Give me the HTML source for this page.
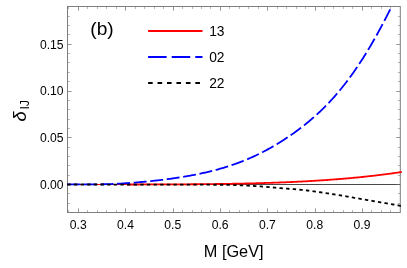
<!DOCTYPE html>
<html><head><meta charset="utf-8"><style>
html,body{margin:0;padding:0;background:#fff;}
svg{display:block;will-change:transform;font-family:"Liberation Sans",sans-serif;}
</style></head><body>
<svg width="407" height="268" viewBox="0 0 407 268">
<rect width="407" height="268" fill="#fff"/>
<line x1="67.5" y1="184.5" x2="400.3" y2="184.5" stroke="#484848" stroke-width="1"/>
<g stroke="#666" stroke-opacity="0.68" stroke-width="1" fill="none">
<line x1="68.50" y1="212.5" x2="68.50" y2="210.05" stroke-opacity="0.48"/><line x1="68.50" y1="6.5" x2="68.50" y2="8.95" stroke-opacity="0.48"/><line x1="78.50" y1="212.5" x2="78.50" y2="208.4"/><line x1="78.50" y1="6.5" x2="78.50" y2="10.6"/><line x1="87.50" y1="212.5" x2="87.50" y2="210.05" stroke-opacity="0.48"/><line x1="87.50" y1="6.5" x2="87.50" y2="8.95" stroke-opacity="0.48"/><line x1="97.50" y1="212.5" x2="97.50" y2="210.05" stroke-opacity="0.48"/><line x1="97.50" y1="6.5" x2="97.50" y2="8.95" stroke-opacity="0.48"/><line x1="106.50" y1="212.5" x2="106.50" y2="210.05" stroke-opacity="0.48"/><line x1="106.50" y1="6.5" x2="106.50" y2="8.95" stroke-opacity="0.48"/><line x1="116.50" y1="212.5" x2="116.50" y2="210.05" stroke-opacity="0.48"/><line x1="116.50" y1="6.5" x2="116.50" y2="8.95" stroke-opacity="0.48"/><line x1="125.50" y1="212.5" x2="125.50" y2="208.4"/><line x1="125.50" y1="6.5" x2="125.50" y2="10.6"/><line x1="135.50" y1="212.5" x2="135.50" y2="210.05" stroke-opacity="0.48"/><line x1="135.50" y1="6.5" x2="135.50" y2="8.95" stroke-opacity="0.48"/><line x1="144.50" y1="212.5" x2="144.50" y2="210.05" stroke-opacity="0.48"/><line x1="144.50" y1="6.5" x2="144.50" y2="8.95" stroke-opacity="0.48"/><line x1="154.50" y1="212.5" x2="154.50" y2="210.05" stroke-opacity="0.48"/><line x1="154.50" y1="6.5" x2="154.50" y2="8.95" stroke-opacity="0.48"/><line x1="163.50" y1="212.5" x2="163.50" y2="210.05" stroke-opacity="0.48"/><line x1="163.50" y1="6.5" x2="163.50" y2="8.95" stroke-opacity="0.48"/><line x1="173.50" y1="212.5" x2="173.50" y2="208.4"/><line x1="173.50" y1="6.5" x2="173.50" y2="10.6"/><line x1="182.50" y1="212.5" x2="182.50" y2="210.05" stroke-opacity="0.48"/><line x1="182.50" y1="6.5" x2="182.50" y2="8.95" stroke-opacity="0.48"/><line x1="192.50" y1="212.5" x2="192.50" y2="210.05" stroke-opacity="0.48"/><line x1="192.50" y1="6.5" x2="192.50" y2="8.95" stroke-opacity="0.48"/><line x1="201.50" y1="212.5" x2="201.50" y2="210.05" stroke-opacity="0.48"/><line x1="201.50" y1="6.5" x2="201.50" y2="8.95" stroke-opacity="0.48"/><line x1="210.50" y1="212.5" x2="210.50" y2="210.05" stroke-opacity="0.48"/><line x1="210.50" y1="6.5" x2="210.50" y2="8.95" stroke-opacity="0.48"/><line x1="220.50" y1="212.5" x2="220.50" y2="208.4"/><line x1="220.50" y1="6.5" x2="220.50" y2="10.6"/><line x1="229.50" y1="212.5" x2="229.50" y2="210.05" stroke-opacity="0.48"/><line x1="229.50" y1="6.5" x2="229.50" y2="8.95" stroke-opacity="0.48"/><line x1="239.50" y1="212.5" x2="239.50" y2="210.05" stroke-opacity="0.48"/><line x1="239.50" y1="6.5" x2="239.50" y2="8.95" stroke-opacity="0.48"/><line x1="248.50" y1="212.5" x2="248.50" y2="210.05" stroke-opacity="0.48"/><line x1="248.50" y1="6.5" x2="248.50" y2="8.95" stroke-opacity="0.48"/><line x1="258.50" y1="212.5" x2="258.50" y2="210.05" stroke-opacity="0.48"/><line x1="258.50" y1="6.5" x2="258.50" y2="8.95" stroke-opacity="0.48"/><line x1="267.50" y1="212.5" x2="267.50" y2="208.4"/><line x1="267.50" y1="6.5" x2="267.50" y2="10.6"/><line x1="277.50" y1="212.5" x2="277.50" y2="210.05" stroke-opacity="0.48"/><line x1="277.50" y1="6.5" x2="277.50" y2="8.95" stroke-opacity="0.48"/><line x1="286.50" y1="212.5" x2="286.50" y2="210.05" stroke-opacity="0.48"/><line x1="286.50" y1="6.5" x2="286.50" y2="8.95" stroke-opacity="0.48"/><line x1="296.50" y1="212.5" x2="296.50" y2="210.05" stroke-opacity="0.48"/><line x1="296.50" y1="6.5" x2="296.50" y2="8.95" stroke-opacity="0.48"/><line x1="305.50" y1="212.5" x2="305.50" y2="210.05" stroke-opacity="0.48"/><line x1="305.50" y1="6.5" x2="305.50" y2="8.95" stroke-opacity="0.48"/><line x1="315.50" y1="212.5" x2="315.50" y2="208.4"/><line x1="315.50" y1="6.5" x2="315.50" y2="10.6"/><line x1="324.50" y1="212.5" x2="324.50" y2="210.05" stroke-opacity="0.48"/><line x1="324.50" y1="6.5" x2="324.50" y2="8.95" stroke-opacity="0.48"/><line x1="333.50" y1="212.5" x2="333.50" y2="210.05" stroke-opacity="0.48"/><line x1="333.50" y1="6.5" x2="333.50" y2="8.95" stroke-opacity="0.48"/><line x1="343.50" y1="212.5" x2="343.50" y2="210.05" stroke-opacity="0.48"/><line x1="343.50" y1="6.5" x2="343.50" y2="8.95" stroke-opacity="0.48"/><line x1="352.50" y1="212.5" x2="352.50" y2="210.05" stroke-opacity="0.48"/><line x1="352.50" y1="6.5" x2="352.50" y2="8.95" stroke-opacity="0.48"/><line x1="362.50" y1="212.5" x2="362.50" y2="208.4"/><line x1="362.50" y1="6.5" x2="362.50" y2="10.6"/><line x1="371.50" y1="212.5" x2="371.50" y2="210.05" stroke-opacity="0.48"/><line x1="371.50" y1="6.5" x2="371.50" y2="8.95" stroke-opacity="0.48"/><line x1="381.50" y1="212.5" x2="381.50" y2="210.05" stroke-opacity="0.48"/><line x1="381.50" y1="6.5" x2="381.50" y2="8.95" stroke-opacity="0.48"/><line x1="390.50" y1="212.5" x2="390.50" y2="210.05" stroke-opacity="0.48"/><line x1="390.50" y1="6.5" x2="390.50" y2="8.95" stroke-opacity="0.48"/><line x1="67.5" y1="203.50" x2="69.95" y2="203.50" stroke-opacity="0.48"/><line x1="400.3" y1="203.50" x2="397.85" y2="203.50" stroke-opacity="0.48"/><line x1="67.5" y1="193.50" x2="69.95" y2="193.50" stroke-opacity="0.48"/><line x1="400.3" y1="193.50" x2="397.85" y2="193.50" stroke-opacity="0.48"/><line x1="67.5" y1="184.50" x2="71.6" y2="184.50"/><line x1="400.3" y1="184.50" x2="396.2" y2="184.50"/><line x1="67.5" y1="175.50" x2="69.95" y2="175.50" stroke-opacity="0.48"/><line x1="400.3" y1="175.50" x2="397.85" y2="175.50" stroke-opacity="0.48"/><line x1="67.5" y1="165.50" x2="69.95" y2="165.50" stroke-opacity="0.48"/><line x1="400.3" y1="165.50" x2="397.85" y2="165.50" stroke-opacity="0.48"/><line x1="67.5" y1="156.50" x2="69.95" y2="156.50" stroke-opacity="0.48"/><line x1="400.3" y1="156.50" x2="397.85" y2="156.50" stroke-opacity="0.48"/><line x1="67.5" y1="147.50" x2="69.95" y2="147.50" stroke-opacity="0.48"/><line x1="400.3" y1="147.50" x2="397.85" y2="147.50" stroke-opacity="0.48"/><line x1="67.5" y1="137.50" x2="71.6" y2="137.50"/><line x1="400.3" y1="137.50" x2="396.2" y2="137.50"/><line x1="67.5" y1="128.50" x2="69.95" y2="128.50" stroke-opacity="0.48"/><line x1="400.3" y1="128.50" x2="397.85" y2="128.50" stroke-opacity="0.48"/><line x1="67.5" y1="119.50" x2="69.95" y2="119.50" stroke-opacity="0.48"/><line x1="400.3" y1="119.50" x2="397.85" y2="119.50" stroke-opacity="0.48"/><line x1="67.5" y1="109.50" x2="69.95" y2="109.50" stroke-opacity="0.48"/><line x1="400.3" y1="109.50" x2="397.85" y2="109.50" stroke-opacity="0.48"/><line x1="67.5" y1="100.50" x2="69.95" y2="100.50" stroke-opacity="0.48"/><line x1="400.3" y1="100.50" x2="397.85" y2="100.50" stroke-opacity="0.48"/><line x1="67.5" y1="91.50" x2="71.6" y2="91.50"/><line x1="400.3" y1="91.50" x2="396.2" y2="91.50"/><line x1="67.5" y1="81.50" x2="69.95" y2="81.50" stroke-opacity="0.48"/><line x1="400.3" y1="81.50" x2="397.85" y2="81.50" stroke-opacity="0.48"/><line x1="67.5" y1="72.50" x2="69.95" y2="72.50" stroke-opacity="0.48"/><line x1="400.3" y1="72.50" x2="397.85" y2="72.50" stroke-opacity="0.48"/><line x1="67.5" y1="62.50" x2="69.95" y2="62.50" stroke-opacity="0.48"/><line x1="400.3" y1="62.50" x2="397.85" y2="62.50" stroke-opacity="0.48"/><line x1="67.5" y1="53.50" x2="69.95" y2="53.50" stroke-opacity="0.48"/><line x1="400.3" y1="53.50" x2="397.85" y2="53.50" stroke-opacity="0.48"/><line x1="67.5" y1="44.50" x2="71.6" y2="44.50"/><line x1="400.3" y1="44.50" x2="396.2" y2="44.50"/><line x1="67.5" y1="34.50" x2="69.95" y2="34.50" stroke-opacity="0.48"/><line x1="400.3" y1="34.50" x2="397.85" y2="34.50" stroke-opacity="0.48"/><line x1="67.5" y1="25.50" x2="69.95" y2="25.50" stroke-opacity="0.48"/><line x1="400.3" y1="25.50" x2="397.85" y2="25.50" stroke-opacity="0.48"/><line x1="67.5" y1="16.50" x2="69.95" y2="16.50" stroke-opacity="0.48"/><line x1="400.3" y1="16.50" x2="397.85" y2="16.50" stroke-opacity="0.48"/>
<rect x="67.5" y="6.5" width="332.8" height="206.0" stroke="#7e7e7e" stroke-opacity="1" stroke-width="1"/>
</g>
<g fill="none" stroke-width="1.8">
<path d="M67.30,184.50 L68.30,184.50 L69.30,184.50 L70.30,184.50 L71.30,184.50 L72.30,184.50 L73.30,184.50 L74.30,184.50 L75.30,184.50 L76.30,184.50 L77.30,184.50 L78.30,184.50 L79.30,184.50 L80.30,184.50 L81.30,184.50 L82.30,184.50 L83.30,184.50 L84.30,184.50 L85.30,184.50 L86.30,184.50 L87.30,184.50 L88.30,184.50 L89.30,184.50 L90.30,184.50 L91.30,184.50 L92.30,184.50 L93.30,184.50 L94.30,184.50 L95.30,184.50 L96.30,184.50 L97.30,184.50 L98.30,184.50 L99.30,184.50 L100.30,184.50 L101.30,184.50 L102.30,184.50 L103.30,184.50 L104.30,184.50 L105.30,184.50 L106.30,184.50 L107.30,184.50 L108.30,184.50 L109.30,184.50 L110.30,184.50 L111.30,184.50 L112.30,184.50 L113.30,184.50 L114.30,184.50 L115.30,184.50 L116.30,184.49 L117.30,184.49 L118.30,184.49 L119.30,184.49 L120.30,184.49 L121.30,184.49 L122.30,184.49 L123.30,184.49 L124.30,184.49 L125.30,184.49 L126.30,184.49 L127.30,184.49 L128.00,184.49" stroke="#f00" stroke-width="1.1"/>
<path d="M127.00,184.49 L128.00,184.49 L129.00,184.49 L130.00,184.49 L131.00,184.48 L132.00,184.48 L133.00,184.48 L134.00,184.48 L135.00,184.48 L136.00,184.48 L137.00,184.48 L138.00,184.48 L139.00,184.48 L140.00,184.47 L141.00,184.47 L142.00,184.47 L143.00,184.47 L144.00,184.47 L145.00,184.47 L146.00,184.46 L147.00,184.46 L148.00,184.46 L149.00,184.46 L150.00,184.46 L151.00,184.45 L152.00,184.45 L153.00,184.45 L154.00,184.45 L155.00,184.44 L156.00,184.44 L157.00,184.44 L158.00,184.44 L159.00,184.43 L160.00,184.43 L161.00,184.43 L162.00,184.42 L163.00,184.42 L164.00,184.42 L165.00,184.41 L166.00,184.41 L167.00,184.41 L168.00,184.40 L169.00,184.40 L170.00,184.39 L171.00,184.39 L172.00,184.39 L173.00,184.38 L174.00,184.38 L175.00,184.37 L176.00,184.37 L177.00,184.36 L178.00,184.36 L179.00,184.35 L180.00,184.35 L181.00,184.34 L182.00,184.33 L183.00,184.33 L184.00,184.32 L185.00,184.32 L186.00,184.31 L187.00,184.30 L188.00,184.30 L189.00,184.29 L190.00,184.28 L191.00,184.27 L192.00,184.27 L193.00,184.26 L194.00,184.25 L195.00,184.24 L196.00,184.23 L197.00,184.23 L198.00,184.22 L199.00,184.21 L200.00,184.20 L201.00,184.19 L202.00,184.18 L203.00,184.17 L204.00,184.16 L205.00,184.15 L206.00,184.14 L207.00,184.13 L208.00,184.12 L209.00,184.11 L210.00,184.10 L211.00,184.09 L212.00,184.07 L213.00,184.06 L214.00,184.05 L215.00,184.04 L216.00,184.02 L217.00,184.01 L218.00,184.00 L219.00,183.98 L220.00,183.97 L221.00,183.96 L222.00,183.94 L223.00,183.93 L224.00,183.91 L225.00,183.90 L226.00,183.88 L227.00,183.86 L228.00,183.85 L229.00,183.83 L230.00,183.81 L231.00,183.80 L232.00,183.78 L233.00,183.76 L234.00,183.74 L235.00,183.73 L236.00,183.71 L237.00,183.69 L238.00,183.67 L239.00,183.65 L240.00,183.63 L241.00,183.61 L242.00,183.59 L243.00,183.56 L244.00,183.54 L245.00,183.52 L246.00,183.50 L247.00,183.48 L248.00,183.45 L249.00,183.43 L250.00,183.40 L251.00,183.38 L252.00,183.36 L253.00,183.33 L254.00,183.30 L255.00,183.28 L256.00,183.25 L257.00,183.23 L258.00,183.20 L259.00,183.17 L260.00,183.14 L261.00,183.11 L262.00,183.08 L263.00,183.05 L264.00,183.02 L265.00,182.99 L266.00,182.96 L267.00,182.93 L268.00,182.90 L269.00,182.87 L270.00,182.83 L271.00,182.80 L272.00,182.77 L273.00,182.73 L274.00,182.70 L275.00,182.66 L276.00,182.63 L277.00,182.59 L278.00,182.55 L279.00,182.52 L280.00,182.48 L281.00,182.44 L282.00,182.40 L283.00,182.36 L284.00,182.32 L285.00,182.28 L286.00,182.24 L287.00,182.20 L288.00,182.15 L289.00,182.11 L290.00,182.07 L291.00,182.02 L292.00,181.98 L293.00,181.93 L294.00,181.88 L295.00,181.84 L296.00,181.79 L297.00,181.74 L298.00,181.69 L299.00,181.64 L300.00,181.59 L301.00,181.54 L302.00,181.49 L303.00,181.44 L304.00,181.39 L305.00,181.33 L306.00,181.28 L307.00,181.23 L308.00,181.17 L309.00,181.11 L310.00,181.06 L311.00,181.00 L312.00,180.94 L313.00,180.88 L314.00,180.82 L315.00,180.76 L316.00,180.70 L317.00,180.64 L318.00,180.58 L319.00,180.51 L320.00,180.45 L321.00,180.38 L322.00,180.32 L323.00,180.25 L324.00,180.18 L325.00,180.12 L326.00,180.05 L327.00,179.98 L328.00,179.91 L329.00,179.84 L330.00,179.76 L331.00,179.69 L332.00,179.62 L333.00,179.54 L334.00,179.47 L335.00,179.39 L336.00,179.31 L337.00,179.24 L338.00,179.16 L339.00,179.08 L340.00,179.00 L341.00,178.91 L342.00,178.83 L343.00,178.75 L344.00,178.66 L345.00,178.58 L346.00,178.49 L347.00,178.40 L348.00,178.32 L349.00,178.23 L350.00,178.14 L351.00,178.05 L352.00,177.95 L353.00,177.86 L354.00,177.77 L355.00,177.67 L356.00,177.58 L357.00,177.48 L358.00,177.38 L359.00,177.28 L360.00,177.18 L361.00,177.08 L362.00,176.98 L363.00,176.87 L364.00,176.77 L365.00,176.66 L366.00,176.56 L367.00,176.45 L368.00,176.34 L369.00,176.23 L370.00,176.12 L371.00,176.01 L372.00,175.90 L373.00,175.78 L374.00,175.67 L375.00,175.55 L376.00,175.43 L377.00,175.31 L378.00,175.19 L379.00,175.07 L380.00,174.95 L381.00,174.83 L382.00,174.70 L383.00,174.58 L384.00,174.45 L385.00,174.32 L386.00,174.19 L387.00,174.06 L388.00,173.93 L389.00,173.80 L390.00,173.66 L391.00,173.53 L392.00,173.39 L393.00,173.25 L394.00,173.11 L395.00,172.97 L396.00,172.83 L397.00,172.69 L398.00,172.54 L399.00,172.40 L400.00,172.25 L401.00,172.10 L401.80,171.98" stroke="#f00"/>
<path d="M67.30,184.31 L68.30,184.36 L69.30,184.40 L70.30,184.44 L71.30,184.45 L72.30,184.45 L73.30,184.45 L74.30,184.45 L75.30,184.45 L76.30,184.45 L77.30,184.45 L78.30,184.45 L79.30,184.45 L80.30,184.45 L81.30,184.45 L82.30,184.45 L83.30,184.45 L84.30,184.45 L85.30,184.45 L86.30,184.45 L87.30,184.45 L88.30,184.44 L89.30,184.44 L90.30,184.43 L91.30,184.43 L92.30,184.42 L93.30,184.41 L94.30,184.40 L95.30,184.39 L96.30,184.37 L97.30,184.36 L98.30,184.34 L99.30,184.33 L100.30,184.31 L101.30,184.29 L102.30,184.27 L103.30,184.25 L104.30,184.23 L105.30,184.20 L106.30,184.18 L107.30,184.15 L108.30,184.12 L109.30,184.10 L110.30,184.07 L111.30,184.03 L112.30,184.00 L113.30,183.97 L114.30,183.92 L115.30,183.87 L116.30,183.81 L117.30,183.76 L118.30,183.70 L119.30,183.65 L120.30,183.59 L121.30,183.53 L122.30,183.46 L123.30,183.40 L124.30,183.34 L125.30,183.27 L126.30,183.20 L127.30,183.13 L128.30,183.06 L129.30,182.99 L130.30,182.92 L131.30,182.84 L132.30,182.77 L133.30,182.69 L134.30,182.61 L135.30,182.53 L136.30,182.45 L137.30,182.37 L138.30,182.28 L139.30,182.20 L140.30,182.11 L141.30,182.02 L142.30,181.93 L143.30,181.84 L144.30,181.74 L145.30,181.65 L146.30,181.55 L147.30,181.46 L148.30,181.36 L149.30,181.26 L150.30,181.16 L151.30,181.05 L152.30,180.95 L153.30,180.84 L154.30,180.73 L155.30,180.62 L156.30,180.51 L157.30,180.40 L158.30,180.28 L159.30,180.17 L160.30,180.05 L161.30,179.93 L162.30,179.81 L163.30,179.68 L164.30,179.56 L165.30,179.43 L166.30,179.30 L167.30,179.17 L168.30,179.04 L169.30,178.91 L170.30,178.77 L171.30,178.63 L172.30,178.49 L173.30,178.35 L174.30,178.21 L175.30,178.06 L176.30,177.91 L177.30,177.76 L178.30,177.61 L179.30,177.45 L180.30,177.30 L181.30,177.14 L182.30,176.98 L183.30,176.81 L184.30,176.65 L185.30,176.48 L186.30,176.31 L187.30,176.13 L188.30,175.96 L189.30,175.78 L190.30,175.60 L191.30,175.41 L192.30,175.22 L193.30,175.03 L194.30,174.84 L195.30,174.65 L196.30,174.45 L197.30,174.25 L198.30,174.04 L199.30,173.84 L200.30,173.63 L201.30,173.41 L202.30,173.20 L203.30,172.98 L204.30,172.75 L205.30,172.53 L206.30,172.30 L207.30,172.06 L208.30,171.83 L209.30,171.59 L210.30,171.34 L211.30,171.10 L212.30,170.85 L213.30,170.59 L214.30,170.33 L215.30,170.07 L216.30,169.80 L217.30,169.53 L218.30,169.26 L219.30,168.98 L220.30,168.70 L221.30,168.41 L222.30,168.12 L223.30,167.82 L224.30,167.52 L225.30,167.22 L226.30,166.91 L227.30,166.60 L228.30,166.28 L229.30,165.96 L230.30,165.63 L231.30,165.29 L232.30,164.96 L233.30,164.61 L234.30,164.27 L235.30,163.91 L236.30,163.56 L237.30,163.19 L238.30,162.83 L239.30,162.45 L240.30,162.07 L241.30,161.69 L242.30,161.30 L243.30,160.90 L244.30,160.50 L245.30,160.09 L246.30,159.68 L247.30,159.26 L248.30,158.84 L249.30,158.41 L250.30,157.97 L251.30,157.53 L252.30,157.08 L253.30,156.63 L254.30,156.17 L255.30,155.71 L256.30,155.23 L257.30,154.76 L258.30,154.27 L259.30,153.78 L260.30,153.29 L261.30,152.78 L262.30,152.28 L263.30,151.76 L264.30,151.24 L265.30,150.71 L266.30,150.18 L267.30,149.64 L268.30,149.10 L269.30,148.54 L270.30,147.99 L271.30,147.42 L272.30,146.85 L273.30,146.27 L274.30,145.69 L275.30,145.10 L276.30,144.51 L277.30,143.91 L278.30,143.30 L279.30,142.68 L280.30,142.06 L281.30,141.44 L282.30,140.81 L283.30,140.17 L284.30,139.52 L285.30,138.87 L286.30,138.21 L287.30,137.55 L288.30,136.87 L289.30,136.20 L290.30,135.51 L291.30,134.82 L292.30,134.12 L293.30,133.42 L294.30,132.70 L295.30,131.99 L296.30,131.26 L297.30,130.52 L298.30,129.78 L299.30,129.03 L300.30,128.28 L301.30,127.51 L302.30,126.74 L303.30,125.96 L304.30,125.17 L305.30,124.37 L306.30,123.57 L307.30,122.75 L308.30,121.93 L309.30,121.10 L310.30,120.26 L311.30,119.41 L312.30,118.54 L313.30,117.67 L314.30,116.79 L315.30,115.90 L316.30,115.00 L317.30,114.09 L318.30,113.17 L319.30,112.24 L320.30,111.29 L321.30,110.34 L322.30,109.37 L323.30,108.39 L324.30,107.40 L325.30,106.40 L326.30,105.38 L327.30,104.35 L328.30,103.31 L329.30,102.26 L330.30,101.19 L331.30,100.11 L332.30,99.01 L333.30,97.91 L334.30,96.78 L335.30,95.65 L336.30,94.50 L337.30,93.33 L338.30,92.16 L339.30,90.96 L340.30,89.76 L341.30,88.53 L342.30,87.30 L343.30,86.04 L344.30,84.77 L345.30,83.49 L346.30,82.19 L347.30,80.88 L348.30,79.55 L349.30,78.20 L350.30,76.84 L351.30,75.46 L352.30,74.07 L353.30,72.66 L354.30,71.24 L355.30,69.79 L356.30,68.34 L357.30,66.86 L358.30,65.37 L359.30,63.86 L360.30,62.34 L361.30,60.80 L362.30,59.24 L363.30,57.67 L364.30,56.08 L365.30,54.47 L366.30,52.85 L367.30,51.21 L368.30,49.56 L369.30,47.88 L370.30,46.20 L371.30,44.49 L372.30,42.77 L373.30,41.04 L374.30,39.29 L375.30,37.52 L376.30,35.74 L377.30,33.94 L378.30,32.13 L379.30,30.30 L380.30,28.46 L381.30,26.60 L382.30,24.72 L383.30,22.84 L384.30,20.93 L385.30,19.02 L386.30,17.09 L387.30,15.15 L388.30,13.19 L389.30,11.22 L390.30,9.24 L390.40,9.04" stroke="#00f" stroke-dasharray="12.94 3.67" stroke-dashoffset="0"/>
<path d="M67.30,184.50 L68.30,184.50 L69.30,184.50 L70.30,184.50 L71.30,184.50 L72.30,184.50 L73.30,184.50 L74.30,184.50 L75.30,184.50 L76.30,184.50 L77.30,184.50 L78.30,184.50 L79.30,184.50 L80.30,184.50 L81.30,184.50 L82.30,184.50 L83.30,184.51 L84.30,184.51 L85.30,184.51 L86.30,184.51 L87.30,184.51 L88.30,184.51 L89.30,184.51 L90.30,184.51 L91.30,184.51 L92.30,184.51 L93.30,184.51 L94.30,184.51 L95.30,184.51 L96.30,184.51 L97.30,184.52 L98.30,184.52 L99.30,184.52 L100.30,184.52 L101.30,184.52 L102.30,184.52 L103.30,184.52 L104.30,184.52 L105.30,184.52 L106.30,184.52 L107.30,184.53 L108.30,184.53 L109.30,184.53 L110.30,184.53 L111.30,184.53 L112.30,184.53 L113.30,184.53 L114.30,184.53 L115.30,184.53 L116.30,184.54 L117.30,184.54 L118.30,184.54 L119.30,184.54 L120.30,184.54 L121.30,184.54 L122.30,184.54 L123.30,184.54 L124.30,184.55 L125.30,184.55 L126.30,184.55 L127.30,184.55 L128.30,184.55 L129.30,184.55 L130.30,184.55 L131.30,184.56 L132.30,184.56 L133.30,184.56 L134.30,184.56 L135.30,184.56 L136.30,184.56 L137.30,184.56 L138.30,184.57 L139.30,184.57 L140.30,184.57 L141.30,184.57 L142.30,184.57 L143.30,184.57 L144.30,184.58 L145.30,184.58 L146.30,184.58 L147.30,184.58 L148.30,184.58 L149.30,184.58 L150.30,184.58 L151.30,184.59 L152.30,184.59 L153.30,184.59 L154.30,184.59 L155.30,184.59 L156.30,184.59 L157.30,184.60 L158.30,184.60 L159.30,184.60 L160.30,184.60 L161.30,184.60 L162.30,184.60 L163.30,184.61 L164.30,184.61 L165.30,184.61 L166.30,184.61 L167.30,184.61 L168.30,184.62 L169.30,184.62 L170.30,184.62 L171.30,184.62 L172.30,184.63 L173.30,184.63 L174.30,184.63 L175.30,184.63 L176.30,184.64 L177.30,184.64 L178.30,184.64 L179.30,184.64 L180.30,184.65 L181.30,184.65 L182.30,184.65 L183.30,184.65 L184.30,184.66 L185.30,184.66 L186.30,184.66 L187.30,184.67 L188.30,184.67 L189.30,184.67 L190.30,184.67 L191.30,184.68 L192.30,184.68 L193.30,184.68 L194.30,184.69 L195.30,184.69 L196.30,184.69 L197.30,184.69 L198.30,184.70 L199.30,184.70 L200.30,184.70 L201.30,184.70 L202.30,184.71 L203.30,184.71 L204.30,184.71 L205.30,184.71 L206.30,184.71 L207.30,184.71 L208.30,184.72 L209.30,184.72 L210.30,184.72 L211.30,184.72 L212.30,184.73 L213.30,184.73 L214.30,184.73 L215.30,184.73 L216.30,184.74 L217.30,184.74 L218.30,184.74 L219.30,184.75 L220.30,184.75 L221.30,184.76 L222.30,184.77 L223.30,184.79 L224.30,184.81 L225.30,184.83 L226.30,184.86 L227.30,184.88 L228.30,184.91 L229.30,184.94 L230.30,184.97 L231.30,185.01 L232.30,185.04 L233.30,185.08 L234.30,185.12 L235.30,185.15 L236.30,185.19 L237.30,185.23 L238.30,185.26 L239.30,185.30 L240.30,185.34 L241.30,185.38 L242.30,185.42 L243.30,185.46 L244.30,185.50 L245.30,185.55 L246.30,185.59 L247.30,185.64 L248.30,185.69 L249.30,185.74 L250.30,185.79 L251.30,185.85 L252.30,185.90 L253.30,185.96 L254.30,186.01 L255.30,186.07 L256.30,186.13 L257.30,186.19 L258.30,186.26 L259.30,186.32 L260.30,186.39 L261.30,186.46 L262.30,186.53 L263.30,186.61 L264.30,186.69 L265.30,186.78 L266.30,186.86 L267.30,186.95 L268.30,187.04 L269.30,187.13 L270.30,187.22 L271.30,187.32 L272.30,187.41 L273.30,187.50 L274.30,187.60 L275.30,187.69 L276.30,187.78 L277.30,187.87 L278.30,187.96 L279.30,188.04 L280.30,188.12 L281.30,188.21 L282.30,188.28 L283.30,188.36 L284.30,188.44 L285.30,188.51 L286.30,188.59 L287.30,188.66 L288.30,188.73 L289.30,188.81 L290.30,188.88 L291.30,188.96 L292.30,189.03 L293.30,189.11 L294.30,189.19 L295.30,189.27 L296.30,189.36 L297.30,189.45 L298.30,189.54 L299.30,189.63 L300.30,189.73 L301.30,189.83 L302.30,189.94 L303.30,190.04 L304.30,190.15 L305.30,190.27 L306.30,190.38 L307.30,190.50 L308.30,190.62 L309.30,190.75 L310.30,190.87 L311.30,191.00 L312.30,191.13 L313.30,191.27 L314.30,191.40 L315.30,191.54 L316.30,191.68 L317.30,191.82 L318.30,191.96 L319.30,192.11 L320.30,192.25 L321.30,192.40 L322.30,192.55 L323.30,192.70 L324.30,192.85 L325.30,193.00 L326.30,193.15 L327.30,193.31 L328.30,193.46 L329.30,193.62 L330.30,193.77 L331.30,193.93 L332.30,194.09 L333.30,194.24 L334.30,194.40 L335.30,194.56 L336.30,194.72 L337.30,194.88 L338.30,195.03 L339.30,195.19 L340.30,195.35 L341.30,195.51 L342.30,195.67 L343.30,195.84 L344.30,196.00 L345.30,196.18 L346.30,196.35 L347.30,196.52 L348.30,196.70 L349.30,196.88 L350.30,197.05 L351.30,197.23 L352.30,197.41 L353.30,197.59 L354.30,197.77 L355.30,197.95 L356.30,198.13 L357.30,198.30 L358.30,198.48 L359.30,198.65 L360.30,198.83 L361.30,199.00 L362.30,199.17 L363.30,199.34 L364.30,199.52 L365.30,199.69 L366.30,199.86 L367.30,200.04 L368.30,200.21 L369.30,200.38 L370.30,200.55 L371.30,200.73 L372.30,200.90 L373.30,201.07 L374.30,201.24 L375.30,201.42 L376.30,201.59 L377.30,201.76 L378.30,201.94 L379.30,202.11 L380.30,202.28 L381.30,202.46 L382.30,202.63 L383.30,202.80 L384.30,202.97 L385.30,203.14 L386.30,203.31 L387.30,203.48 L388.30,203.65 L389.30,203.82 L390.30,204.00 L391.30,204.17 L392.30,204.34 L393.30,204.51 L394.30,204.69 L395.30,204.86 L396.30,205.04 L397.30,205.21 L398.30,205.39 L399.30,205.57 L400.30,205.76 L401.30,205.94 L401.60,206.00" stroke="#000" stroke-dasharray="3.4 3.234"/>
</g>
<g font-size="12.15px" fill="#000">
<text x="78.20" y="228.8" text-anchor="middle">0.3</text><text x="125.50" y="228.8" text-anchor="middle">0.4</text><text x="172.80" y="228.8" text-anchor="middle">0.5</text><text x="220.10" y="228.8" text-anchor="middle">0.6</text><text x="267.40" y="228.8" text-anchor="middle">0.7</text><text x="314.70" y="228.8" text-anchor="middle">0.8</text><text x="362.00" y="228.8" text-anchor="middle">0.9</text>
<text x="63.6" y="188.80" text-anchor="end">0.00</text><text x="63.6" y="142.10" text-anchor="end">0.05</text><text x="63.6" y="95.40" text-anchor="end">0.10</text><text x="63.6" y="48.70" text-anchor="end">0.15</text>
</g>
<text x="233.7" y="256.8" font-size="16.3px" text-anchor="middle" fill="#000">M [GeV]</text>
<g transform="translate(25.5,121.4) rotate(-90)"><text x="0" y="0" font-size="18.2px" font-style="italic" fill="#000">δ</text><text x="11.8" y="3.4" font-size="12.5px" fill="#000">IJ</text></g>
<text x="90.3" y="35.4" font-size="19.2px" fill="#000">(b)</text>
<g fill="none" stroke-width="1.8">
<line x1="148.1" y1="31" x2="202.5" y2="31" stroke="#f00"/>
<line x1="148.1" y1="57" x2="202.5" y2="57" stroke="#00f" stroke-dasharray="18.5 5.1"/>
<line x1="148.1" y1="83" x2="202.5" y2="83" stroke="#000" stroke-dasharray="4.6 4.85"/>
</g>
<g font-size="13.8px" fill="#000">
<text x="209.2" y="35.9">13</text>
<text x="209.2" y="62.3">02</text>
<text x="209.2" y="88.3">22</text>
</g>
</svg>
</body></html>
